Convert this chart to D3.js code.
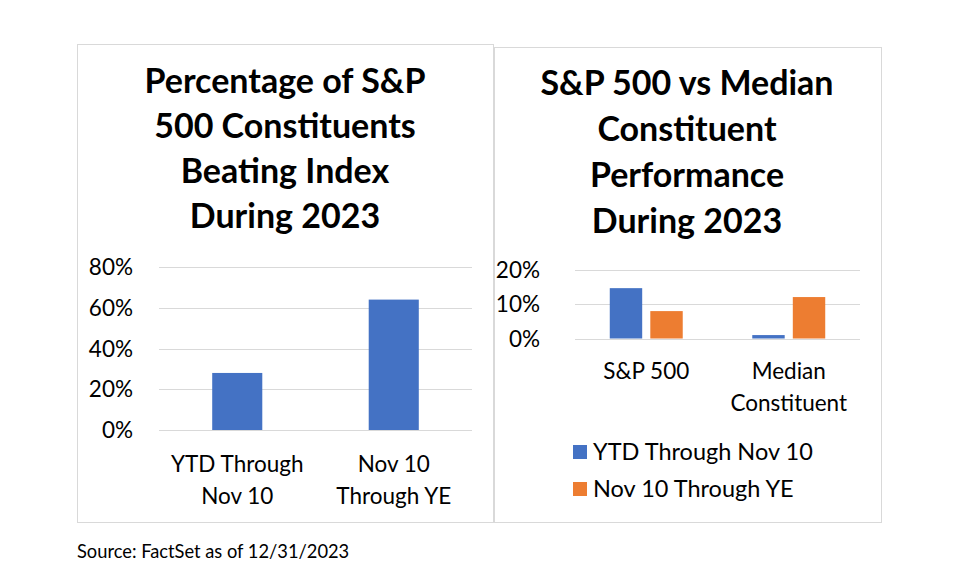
<!DOCTYPE html>
<html>
<head>
<meta charset="utf-8">
<script src="https://cdn.jsdelivr.net/npm/d3@7"></script>
<style>
  body { margin: 0; background: #fff; }
  text { font-family: Lato, "Noto Sans", sans-serif; fill: #000; }
</style>
</head>
<body>
<div id="frame"></div>
<script>
// left chart data
const leftTitle = ["Percentage of S&P", "500 Constituents", "Beating Index", "During 2023"];
const leftCategories = ["YTD Through\nNov 10", "Nov 10\nThrough YE"];
const leftValues = [28, 64];
const leftTicks = [0, 20, 40, 60, 80];

// right chart data
const rightTitle = ["S&P 500 vs Median", "Constituent", "Performance", "During 2023"];
const rightCategories = ["S&P 500", "Median\nConstituent"];
const seriesNames = ["YTD Through Nov 10", "Nov 10 Through YE"];
const ytdValues = [14.7, 1.0];
const novValues = [8.0, 12.1];
const rightTicks = [0, 10, 20];

const colors = ["#4472C4", "#ED7D31"];
const source = "Source: FactSet as of 12/31/2023";

const width = 956, height = 582;
const svg = d3.select("#frame").append("svg")
  .attr("width", width).attr("height", height);

svg.append("rect").attr("width", width).attr("height", height).attr("fill", "#fff");

// panel borders
svg.append("rect").attr("x", 77.5).attr("y", 44.5).attr("width", 416).attr("height", 478)
  .attr("fill", "none").attr("stroke", "#d9d9d9");
svg.append("rect").attr("x", 494.5).attr("y", 47.5).attr("width", 387).attr("height", 475)
  .attr("fill", "none").attr("stroke", "#d9d9d9");

function title(lines, cx, y0, step) {
  svg.append("g").selectAll("text").data(lines).join("text")
    .attr("x", cx).attr("y", (d, i) => y0 + i * step)
    .attr("text-anchor", "middle")
    .attr("font-weight", "bold").attr("font-size", 34)
    .text((d) => d);
}

function yAxis(y, ticks, x0, x1, labelX) {
  svg.append("g").selectAll("line").data(ticks).join("line")
    .attr("x1", x0).attr("x2", x1)
    .attr("y1", (d) => Math.round(y(d)) + 0.5).attr("y2", (d) => Math.round(y(d)) + 0.5)
    .attr("stroke", "#d9d9d9");
  svg.append("g").selectAll("text").data(ticks).join("text")
    .attr("x", labelX).attr("y", (d) => y(d)).attr("dy", "0.36em")
    .attr("text-anchor", "end").attr("font-size", 22.5)
    .text((d) => d + "%");
}

function catLabels(x, cats, baseline) {
  const g = svg.append("g").selectAll("text").data(cats).join("text")
    .attr("x", (d) => x(d) + x.bandwidth() / 2)
    .attr("text-anchor", "middle").attr("font-size", 22.5);
  g.selectAll("tspan").data((d) => d.split("\n")).join("tspan")
    .attr("x", function () { return this.parentNode.getAttribute("x"); })
    .attr("y", (d, i) => baseline + i * 32)
    .text((d) => d);
}

// ---- left chart
title(leftTitle, 285, 93, 45);
const yL = d3.scaleLinear().domain([0, 80]).range([430, 267]);
const xL = d3.scaleBand().domain(leftCategories).range([159, 472])
  .paddingInner(0.68).paddingOuter(0.34);
yAxis(yL, leftTicks, 159, 472, 133);
svg.append("g").selectAll("rect").data(leftValues).join("rect")
  .attr("x", (d, i) => xL(leftCategories[i]))
  .attr("y", (d) => yL(d))
  .attr("width", xL.bandwidth())
  .attr("height", (d) => yL(0) - yL(d))
  .attr("fill", colors[0]);
catLabels(xL, leftCategories, 472);

// ---- right chart
title(rightTitle, 687, 95, 46);
const yR = d3.scaleLinear().domain([0, 20]).range([338.5, 270]);
const xR = d3.scaleBand().domain(rightCategories).range([575, 860])
  .paddingInner(0.488).paddingOuter(0.244);
const xS = d3.scaleBand().domain(seriesNames).range([0, xR.bandwidth()]).paddingInner(0.2);
yAxis(yR, rightTicks, 575, 860, 540);
const rightSeries = [ytdValues, novValues];
rightSeries.forEach((vals, s) => {
  svg.append("g").selectAll("rect").data(vals).join("rect")
    .attr("x", (d, i) => xR(rightCategories[i]) + xS(seriesNames[s]))
    .attr("y", (d) => yR(d))
    .attr("width", xS.bandwidth())
    .attr("height", (d) => yR(0) - yR(d))
    .attr("fill", colors[s]);
});
catLabels(xR, rightCategories, 379);

// legend
const legend = svg.append("g").selectAll("g").data(seriesNames).join("g")
  .attr("transform", (d, i) => `translate(573,${445 + i * 37})`);
legend.append("rect").attr("width", 14).attr("height", 14).attr("fill", (d, i) => colors[i]);
legend.append("text").attr("x", 20).attr("y", 15).attr("font-size", 23.5).text((d) => d);

// source note
svg.append("text").attr("x", 77).attr("y", 558).attr("font-size", 18.3).text(source);
</script>
</body>
</html>
